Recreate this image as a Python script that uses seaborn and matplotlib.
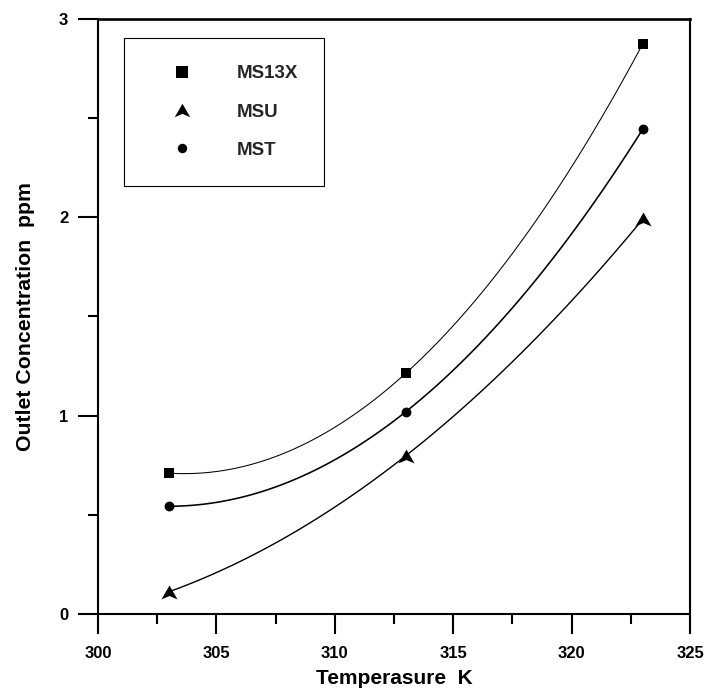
import numpy as np
import pandas as pd
import matplotlib
matplotlib.use("Agg")
import matplotlib.pyplot as plt
from matplotlib.path import Path
from matplotlib.lines import Line2D
from matplotlib.ticker import MultipleLocator
import seaborn as sns

# Measured outlet concentrations (ppm) at three adsorption temperatures (K)
temperature = [303, 313, 323]
ms13x = [0.71, 1.214, 2.874]
msu = [0.112, 0.798, 1.99]
mst = [0.543, 1.02, 2.444]
series_names = ["MS13X", "MSU", "MST"]
x_ticks = [300, 305, 310, 315, 320, 325]
y_ticks = [0, 1, 2, 3]

sns.set_theme(style="ticks")
plt.rcParams["font.family"] = ["Liberation Sans", "DejaVu Sans"]
plt.rcParams["font.weight"] = "bold"

# Arrowhead-style triangle marker
arrow_marker = Path(
    [(0, 0.75), (0.87, -0.75), (0, -0.38), (-0.87, -0.75), (0, 0.75)],
    [Path.MOVETO, Path.LINETO, Path.LINETO, Path.LINETO, Path.CLOSEPOLY],
)

df = pd.DataFrame({"T": temperature, "MS13X": ms13x, "MSU": msu, "MST": mst})

styles = {
    "MS13X": dict(marker="s", s=62, lw=0.75, ms=8.8),
    "MSU": dict(marker=arrow_marker, s=135, lw=1.0, ms=11.2),
    "MST": dict(marker="o", s=50, lw=1.15, ms=6.8),
}

fig = plt.figure(figsize=(7.07, 6.89), dpi=100)
ax = fig.add_axes([0.1386, 0.1089, 0.976 - 0.1386, 0.9724 - 0.1089])

for name in series_names:
    st = styles[name]
    sns.regplot(
        data=df, x="T", y=name, order=2, ci=None, ax=ax,
        marker=st["marker"], color="black",
        scatter_kws=dict(s=st["s"], linewidths=0, alpha=1, zorder=3,
                         clip_on=False, color="black"),
        line_kws=dict(lw=st["lw"], color="black", zorder=2),
    )

ax.set_xlim(300, 325)
ax.set_ylim(0, 3)
ax.set_xticks(x_ticks)
ax.set_yticks(y_ticks)
ax.xaxis.set_minor_locator(MultipleLocator(2.5))
ax.yaxis.set_minor_locator(MultipleLocator(0.5))

for side in ["right", "bottom", "left"]:
    ax.spines[side].set_visible(True)
    ax.spines[side].set_linewidth(1.5)
    ax.spines[side].set_color("black")
ax.spines["top"].set_visible(True)
ax.spines["top"].set_linewidth(1.9)
ax.spines["top"].set_color("black")

ax.tick_params(axis="both", which="major", direction="out", length=14.4,
               width=1.5, color="black", labelsize=12, labelcolor="black")
ax.tick_params(axis="both", which="minor", direction="out", length=7.2,
               width=1.5, color="black")
ax.tick_params(axis="x", which="major", pad=9)
ax.tick_params(axis="y", which="major", pad=7)
ax.tick_params(top=False, right=False, which="both")
for lab in ax.get_xticklabels() + ax.get_yticklabels():
    lab.set_fontweight("bold")

ax.set_xlabel("Temperasure  K", fontsize=15, fontweight="bold", color="black")
ax.set_ylabel("Outlet Concentration  ppm", fontsize=15.3, fontweight="bold", color="black")
ax.xaxis.set_label_coords(0.5, -0.092)
ax.yaxis.set_label_coords(-0.106, 0.5)

handles = [
    Line2D([], [], linestyle="none", color="black", marker=styles[n]["marker"],
           markersize=styles[n]["ms"], markeredgewidth=0)
    for n in series_names
]
leg = ax.legend(
    handles, series_names, loc="upper left",
    bbox_to_anchor=(0.044, 0.718, 0.338, 0.25), mode="expand",
    borderaxespad=0, borderpad=1.45, labelspacing=1.13,
    handlelength=3.25, handletextpad=1.33,
    frameon=True, fancybox=False, shadow=False,
    prop=dict(family="Liberation Sans", weight="bold", size=13.5),
)
leg.get_frame().set_edgecolor("black")
leg.get_frame().set_linewidth(0.8)
leg.get_frame().set_facecolor("white")
leg.get_frame().set_alpha(1)

fig.savefig("out.png", dpi=100, facecolor="white")
